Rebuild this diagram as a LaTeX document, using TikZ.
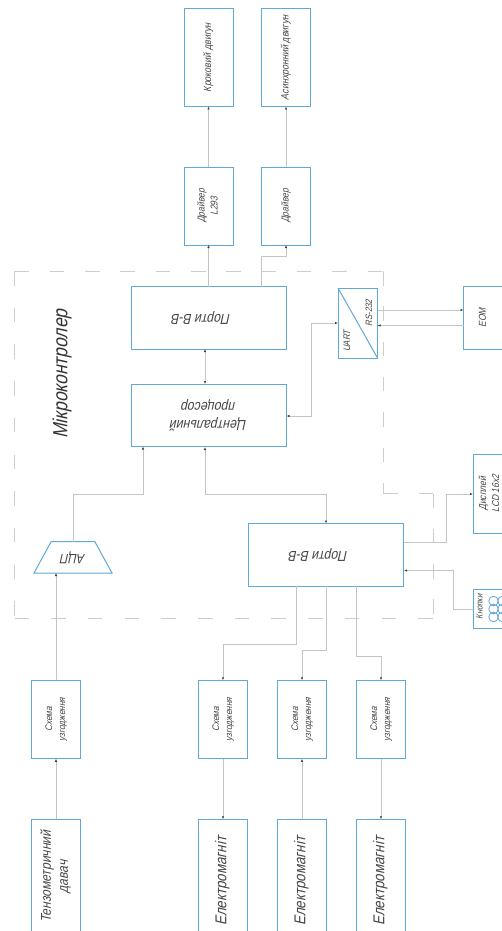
\documentclass[tikz,border=0pt]{standalone}
\usepackage{graphicx}
\usepackage{fontspec}
\usetikzlibrary{arrows.meta,positioning,calc,shapes.geometric}
\newfontfamily\gostfont[FakeStretch=0.85,FakeSlant=0.22]{Liberation Sans}
\definecolor{boxblue}{RGB}{96,168,216}
\definecolor{wiregray}{RGB}{196,196,196}
\definecolor{framegray}{RGB}{205,205,205}
\definecolor{textgray}{RGB}{70,70,70}
\newcommand{\uptext}[1]{\rotatebox{90}{\begin{tabular}{@{}c@{}}#1\end{tabular}}}
\newcommand{\flipped}[1]{\rotatebox{180}{\begin{tabular}{@{}c@{}}#1\end{tabular}}}
\tikzset{
  unitbox/.style={draw=boxblue, line width=1pt, inner sep=0pt, outer sep=0pt, align=center,
    text=textgray, font=\gostfont\fontsize{10}{13}\selectfont},
  motorbox/.style={unitbox, minimum width=49pt, minimum height=97.5pt, font=\gostfont\fontsize{10.5}{13}\selectfont},
  driverbox/.style={unitbox, minimum width=49pt, minimum height=78pt},
  matchbox/.style={driverbox, minimum height=78.5pt, font=\gostfont\fontsize{9.6}{13}\selectfont},
  portbox/.style={unitbox, minimum width=155.5pt, minimum height=62.5pt, font=\gostfont\fontsize{14.5}{18}\selectfont},
  coilbox/.style={unitbox, minimum width=49pt, minimum height=124pt, font=\gostfont\fontsize{15.7}{17}\selectfont},
  smalltext/.style={inner sep=0pt, text=textgray, font=\gostfont\fontsize{#1}{#1}\selectfont},
  flow/.style={-{Latex[length=3pt,width=2.4pt,color=black!75]}, draw=wiregray, line width=0.85pt},
  twoflow/.style={{Latex[length=3pt,width=2.4pt,color=black!75]}-{Latex[length=3pt,width=2.4pt,color=black!75]}, draw=wiregray, line width=0.85pt},
  mcuframe/.style={draw=framegray, line width=0.85pt, dash pattern=on 14.5pt off 20.8pt},
  mcuframelong/.style={draw=framegray, line width=0.85pt, dash pattern=on 14.5pt off 22.2pt}
}
\begin{document}
\begin{tikzpicture}[x=1pt,y=-1pt]
\useasboundingbox (0,0) rectangle (502,931);

\draw[mcuframe] (14.5,271)--(383.5,271) (383.5,271)--(383.5,493.5) (383.5,493.5)--(433.5,493.5) (433.5,493.5)--(433.5,618.5);
\draw[mcuframelong] (14.5,271)--(14.5,618.5) (14.5,618.5)--(433.5,618.5);

\node[motorbox] (stepmotor) at (208.5,57.75) {\uptext{Кроковий двигун}};
\node[motorbox] (acmotor) at (286,57.75) {\uptext{Асинхронний двигун}};
\node[driverbox, below=60.5pt of stepmotor] (stepdriver) {\uptext{Драйвер\\L293}};
\node[driverbox, below=60.5pt of acmotor] (acdriver) {\uptext{Драйвер}};
\node[portbox] (outports) at (208.75,317.75) {\flipped{\hspace*{15pt}Порти В-В}};
\node[portbox, below=35pt of outports] (cpu) {\flipped{Центральний\\процесор}};
\node[portbox] (ioports) at (326,554.75) {\flipped{\hspace*{15pt}Порти В-В}};
\node[unitbox, minimum width=39.5pt, minimum height=70pt] (uart) at (357.75,323) {};
\node[unitbox, minimum width=39.5pt, minimum height=62.5pt] (pc) at (483.25,317.75) {\uptext{ЕОМ}};
\node[unitbox, minimum width=34pt, minimum height=78.5pt] (lcd) at (490,493.75) {\uptext{Дисплей\\LCD 16x2}};
\node[unitbox, minimum width=42pt, minimum height=39pt] (keys) at (494,608.5) {};
\node[trapezium, draw=boxblue, line width=1pt, inner sep=0pt, outer sep=0pt, trapezium stretches=true,
  minimum width=78pt, minimum height=31.5pt, trapezium left angle=59, trapezium right angle=59,
  text=textgray, font=\gostfont\fontsize{13.5}{16}\selectfont] (adc) at (73,557.25) {\flipped{АЦП}};

\node[matchbox] (cond1) at (56,719.5) {\uptext{Схема\\узгодження}};
\node[matchbox] (cond2) at (223,719.5) {\uptext{Схема\\узгодження}};
\node[matchbox] (cond3) at (302,719.5) {\uptext{Схема\\узгодження}};
\node[matchbox] (cond4) at (381,719.5) {\uptext{Схема\\узгодження}};
\node[coilbox, minimum height=115pt, font=\gostfont\fontsize{14.2}{17}\selectfont, below=60.5pt of cond1] (sensor) {\uptext{Тензометричний\\давач}};
\node[coilbox, below=60.5pt of cond2] (coil1) {\uptext{Електромагніт}};
\node[coilbox, below=60.5pt of cond3] (coil2) {\uptext{Електромагніт}};
\node[coilbox, below=60.5pt of cond4] (coil3) {\uptext{Електромагніт}};

\node[inner sep=0pt, text=black!80, font=\gostfont\fontsize{20.5}{22}\selectfont] (mcutitle) at (62,374) {\rotatebox{90}{Мікроконтролер}};
\node[smalltext=9.5] (uartlabel) at (347,341) {\rotatebox{90}{UART}};
\node[smalltext=9.3] (rslabel) at (369,313) {\rotatebox{90}{RS-232}};
\node[smalltext=9] (keylabel) at (479.5,607) {\rotatebox{90}{Кнопки}};
\foreach \cx/\name in {493.5/a,502.5/b}
  \foreach \cy/\row in {601/1,609/2,617/3}
    \node[circle, draw=boxblue, line width=0.8pt, minimum size=9.5pt, inner sep=0pt] (key\name\row) at (\cx,\cy) {};

\draw[draw=boxblue, line width=1pt] (uart.north west) -- (uart.south east);

\coordinate (acout) at (261.5,286.5);
\coordinate (acbend) at (261.5,256.5);
\coordinate (cpuport) at (205,349);
\coordinate (cpuportb) at (205,384);
\coordinate (cpuside) at (286.5,416);
\coordinate (busright) at (311,416);
\coordinate (uartin) at (338,323);
\coordinate (adcbend) at (143,494);
\coordinate (cpubus) at (205,447);
\coordinate (portbus) at (326,494);
\coordinate (rsout) at (377.5,310);
\coordinate (rsin) at (377.5,325.5);
\coordinate (lcdout) at (404,542);
\coordinate (lcdbend) at (446,494);
\coordinate (keyin) at (404,570.5);
\coordinate (keybend) at (453,609);
\coordinate (coilbend1) at (296,644);
\coordinate (coilbend2) at (326,650);
\coordinate (coilbend3) at (356.5,656);

\draw[flow] (stepdriver)--(stepmotor);
\draw[flow] (acdriver)--(acmotor);
\draw[flow] (stepdriver |- outports.north)--(stepdriver);
\draw[flow] (acout)--(acbend)-|(acdriver);
\draw[twoflow] (cpuport)--(cpuportb);
\draw[twoflow] (cpuside)-|(busright)|-(uartin);
\draw[flow] (adc.north)|-(adcbend)--(adcbend |- cpu.south);
\draw[twoflow] (cpubus)|-(portbus)--(ioports.north);
\draw[flow] (rsout)--(rsout -| pc.west);
\draw[flow] (rsin -| pc.west)--(rsin);
\draw[flow] (lcdout)-|(lcdbend)--(lcdbend -| lcd.west);
\draw[flow] (keybend -| keys.west)--(keybend)|-(keyin);
\draw[flow] (cond1)--(cond1 |- adc.south);
\draw[flow] (sensor)--(cond1);
\draw[flow] (coilbend1 |- ioports.south)--(coilbend1)-|(cond2);
\draw[flow] (coilbend2 |- ioports.south)--(coilbend2)-|(cond3);
\draw[flow] (coilbend3 |- ioports.south)--(coilbend3)-|(cond4);
\draw[flow] (cond2)--(coil1);
\draw[flow] (coil2)--(cond3);
\draw[flow] (cond4)--(coil3);
\end{tikzpicture}
\end{document}
